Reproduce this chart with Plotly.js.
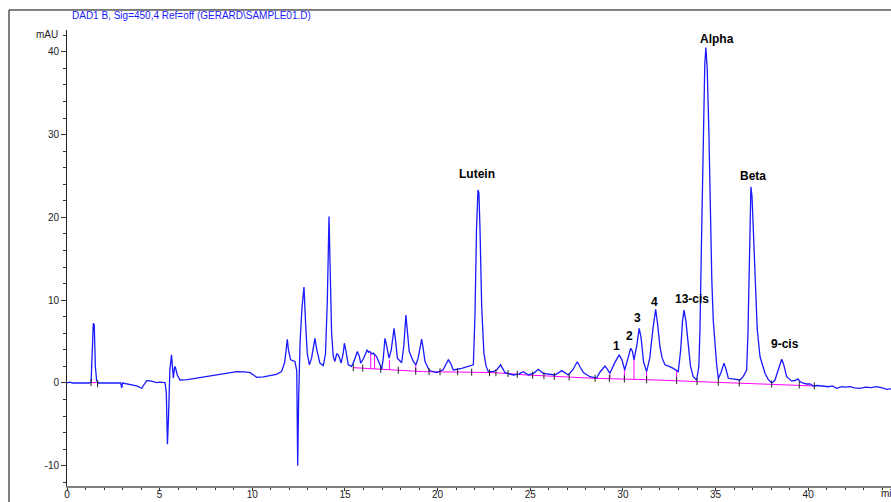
<!DOCTYPE html>
<html>
<head>
<meta charset="utf-8">
<script src="https://cdn.plot.ly/plotly-3.0.1.min.js"></script>
<style>html,body{margin:0;padding:0;background:#fff;}#chart{width:891px;height:502px;}</style>
</head>
<body>
<div id="chart"></div>
<script>
// Signal trace (time in min, absorbance in mAU)
var timeMin = [0.0,0.15,0.3,1.2,1.3,1.36,1.42,1.47,1.53,1.6,1.7,2.9,2.95,3.0,3.76,4.03,4.15,4.3,4.5,4.84,5.0,5.29,5.36,5.42,5.48,5.55,5.64,5.7,5.74,5.8,5.84,5.95,6.1,6.5,7.0,7.6,8.08,8.6,9.16,9.6,9.88,10.1,10.24,10.6,11.0,11.3,11.58,11.75,11.89,11.95,12.07,12.3,12.4,12.45,12.5,12.58,12.68,12.79,12.88,12.97,13.08,13.2,13.38,13.48,13.65,13.83,13.95,14.05,14.14,14.2,14.28,14.37,14.46,14.55,14.64,14.73,14.79,14.9,14.97,15.06,15.18,15.36,15.5,15.67,15.78,15.85,15.99,16.2,16.28,16.35,16.45,16.53,16.62,16.71,16.89,16.98,17.07,17.16,17.25,17.38,17.5,17.65,17.74,17.83,18.06,18.18,18.29,18.38,18.47,18.69,18.83,18.95,19.06,19.14,19.22,19.32,19.55,19.95,20.3,20.58,20.7,20.85,21.3,21.75,21.93,22.02,22.1,22.18,22.23,22.29,22.38,22.5,22.62,22.74,23.0,23.2,23.4,23.5,23.64,24.09,24.4,24.63,24.9,25.2,25.43,25.7,25.98,26.34,26.7,27.05,27.3,27.54,27.7,27.87,28.22,28.58,28.76,29.03,29.15,29.3,29.55,29.8,29.95,30.1,30.25,30.42,30.52,30.6,30.75,30.88,30.98,31.12,31.28,31.45,31.62,31.77,31.88,32.0,32.12,32.27,32.5,32.72,32.99,33.12,33.22,33.3,33.4,33.53,33.65,33.8,33.98,34.1,34.16,34.25,34.32,34.42,34.48,34.55,34.64,34.72,34.8,34.88,34.96,35.05,35.15,35.3,35.46,35.55,35.69,36.0,36.32,36.5,36.68,36.75,36.82,36.91,36.97,37.05,37.13,37.25,37.4,37.55,37.67,37.85,38.03,38.2,38.4,38.57,38.67,38.84,39.1,39.3,39.45,39.56,39.7,39.92,40.1,40.28,40.5,40.82,41.1,41.3,41.54,41.8,42.0,42.26,42.5,42.8,43.1,43.4,43.7,44.0,44.24,44.5];
var signalMAU = [0.0,0.1,0.0,0.0,0.1,3.0,7.2,7.0,2.0,0.3,0.0,0.0,-0.6,0.0,-0.36,-0.64,-0.2,0.28,0.25,0.04,0.1,0.04,-1.2,-7.4,-4.0,1.5,3.4,1.0,0.6,1.8,2.0,0.97,0.36,0.4,0.57,0.75,0.97,1.1,1.37,1.35,1.25,0.9,0.69,0.75,0.9,1.05,1.37,2.5,5.27,4.0,2.8,2.6,1.5,-10.0,-2.0,5.0,9.0,11.6,7.0,3.5,2.2,3.0,5.4,4.0,2.4,2.1,3.5,10.0,20.1,14.0,6.0,3.2,2.6,3.5,3.4,2.9,2.4,3.5,4.8,3.8,2.2,2.0,2.7,3.8,3.2,2.4,2.9,4.0,3.7,3.8,3.5,3.6,3.4,3.2,2.2,1.65,3.0,5.4,4.5,3.0,4.0,6.6,5.0,3.0,2.45,4.5,8.2,6.0,3.8,2.6,2.2,3.0,4.5,5.3,4.2,2.6,1.5,1.25,1.6,2.8,2.4,1.57,1.77,2.05,2.2,8.4,18.5,23.3,23.0,18.5,9.2,3.6,2.0,1.37,1.37,1.6,2.2,1.8,1.25,0.97,1.1,1.37,0.97,1.2,1.65,1.17,1.09,0.97,1.49,0.97,1.6,2.57,1.9,1.25,0.76,0.6,1.3,2.05,1.7,1.17,2.4,3.4,2.8,1.57,2.8,4.2,3.8,2.8,4.5,6.6,5.5,2.5,1.37,3.0,6.5,8.9,7.0,4.4,3.0,2.2,2.0,1.77,1.37,4.0,7.5,8.8,7.5,4.4,2.0,0.76,0.36,2.0,6.4,18.0,28.0,38.5,40.5,38.0,30.5,20.0,12.4,7.5,4.6,2.5,0.5,1.3,2.4,1.8,0.57,0.45,0.36,0.8,1.57,6.0,16.0,23.7,22.5,18.0,12.4,6.5,3.2,2.0,1.17,0.4,0.0,0.3,1.8,2.86,2.3,0.76,0.25,0.3,0.5,0.16,0.0,-0.12,-0.1,-0.36,-0.3,-0.36,-0.45,-0.35,-0.64,-0.45,-0.5,-0.44,-0.6,-0.64,-0.5,-0.55,-0.44,-0.6,-0.76,-0.7];

// Integration baseline (magenta)
var baseTime = [1.25,1.6,null,15.45,17.07,18.33,19.23,21.84,23.0,24.8,26.6,28.4,31.3,34.0,37.94,40.3];
var baseMAU  = [0.05,0.05,null,1.85,1.65,1.49,1.37,1.3,1.25,0.97,0.76,0.57,0.4,0.16,-0.12,-0.36];

// Drop lines (time, top, bottom)
var dropTime   = [16.39,16.6,17.4,18.82,29.3,30.08,30.6,31.28,32.9];
var dropTop    = [3.6,3.5,2.8,2.4,1.17,1.57,2.78,1.37,1.57];
var dropBottom = [1.7,1.68,1.62,1.42,0.55,0.48,0.46,0.4,0.28];

// Peak start/end tick marks
var markTime = [1.3,1.65,15.45,15.96,16.93,17.88,18.82,19.54,20.13,21.08,21.84,22.8,23.15,23.8,24.3,25.13,25.74,26.3,27.1,28.5,29.27,30.08,31.28,32.9,34.0,35.15,36.28,38.03,39.52,40.33];
var markMAU  = [0.05,-0.1,1.85,1.8,1.66,1.55,1.42,1.35,1.35,1.35,1.3,1.25,1.23,1.15,1.05,0.95,0.88,0.8,0.72,0.57,0.55,0.48,0.4,0.28,0.16,0.08,0.0,-0.12,-0.25,-0.36];

// Peak labels
var peakNames = ["Lutein","Alpha","Beta","1","2","3","4","13-cis","9-cis"];
var peakLabelTime = [22.1,35.08,37.02,29.68,30.38,30.81,31.73,33.73,38.75];
var peakLabelMAU  = [25.3,41.6,25.0,4.47,5.68,7.85,9.78,10.14,4.71];

var xTicks = [0,5,10,15,20,25,30,35,40];
var yTicks = [-10,0,10,20,30,40];

var dropX = [], dropY = [];
for (var i = 0; i < dropTime.length; i++) {
  dropX.push(dropTime[i], dropTime[i], null);
  dropY.push(dropTop[i], dropBottom[i], null);
}

var FONT = "'Liberation Sans', Arial, sans-serif";

var traces = [
  {x: baseTime, y: baseMAU, mode: 'lines', line: {color: '#ff00ff', width: 1}, connectgaps: false, hoverinfo: 'skip'},
  {x: dropX, y: dropY, mode: 'lines', line: {color: '#ff00ff', width: 1}, connectgaps: false, hoverinfo: 'skip'},
  {x: timeMin, y: signalMAU, mode: 'lines', line: {color: '#1a1aff', width: 1.3}},
  {x: markTime, y: markMAU, mode: 'markers', marker: {symbol: 'line-ns-open', size: 5, color: '#222', line: {color: '#222', width: 1}}, hoverinfo: 'skip'}
];

var annotations = [];
for (var k = 0; k < peakNames.length; k++) {
  annotations.push({x: peakLabelTime[k], y: peakLabelMAU[k], xref: 'x', yref: 'y', text: '<b>' + peakNames[k] + '</b>',
    showarrow: false, font: {family: FONT, size: 12, color: '#000'}, xanchor: 'center', yanchor: 'middle'});
}
annotations.push({xref: 'paper', yref: 'paper', x: 0.0036, y: 1.031, xanchor: 'left', yanchor: 'middle', showarrow: false,
  text: 'DAD1 B, Sig=450,4 Ref=off (GERARD\\SAMPLE01.D)', font: {family: FONT, size: 10, color: '#1a1aff'}});
annotations.push({xref: 'paper', yref: 'paper', x: -0.0245, y: 0.991, xanchor: 'center', yanchor: 'middle', showarrow: false,
  text: 'mAU', font: {family: FONT, size: 10, color: '#222'}});
annotations.push({xref: 'paper', yref: 'paper', x: 1.0, y: -0.017, xanchor: 'left', yanchor: 'middle', showarrow: false,
  xshift: -12, text: 'min', font: {family: FONT, size: 10, color: '#222'}});

var layout = {
  width: 891, height: 502,
  margin: {l: 67, r: 0, t: 30, b: 16, pad: 0},
  paper_bgcolor: '#fff', plot_bgcolor: '#fff',
  showlegend: false,
  font: {family: FONT, size: 10, color: '#222'},
  xaxis: {range: [0, 44.47], tickvals: xTicks, ticktext: xTicks.map(String), showgrid: false, zeroline: false,
    showline: true, linecolor: '#808080', linewidth: 2, ticks: 'outside', ticklen: 3, tickcolor: '#333', tickwidth: 1,
    minor: {dtick: 1, tick0: 0, ticks: 'outside', ticklen: 2, tickcolor: '#333'}, ticklabelstandoff: -5,
    tickfont: {family: FONT, size: 10, color: '#222'}, fixedrange: true},
  yaxis: {range: [-12.44, 42.63], tickvals: yTicks, ticktext: yTicks.map(String), showgrid: false, zeroline: false,
    showline: true, linecolor: '#222', linewidth: 1, ticks: 'outside', ticklen: 5, tickcolor: '#333', tickwidth: 1,
    minor: {dtick: 2, tick0: 0, ticks: 'outside', ticklen: 3, tickcolor: '#333'},
    tickfont: {family: FONT, size: 10, color: '#222'}, fixedrange: true},
  annotations: annotations,
  shapes: [
    {type: 'line', xref: 'paper', yref: 'paper', x0: -0.0704, x1: -0.0704, y0: -0.1, y1: 1.0439, line: {color: '#000', width: 1}},
    {type: 'line', xref: 'paper', yref: 'paper', x0: -0.0704, x1: 1.1, y0: 1.0439, y1: 1.0439, line: {color: '#000', width: 1}}
  ]
};

Plotly.newPlot('chart', traces, layout, {displayModeBar: false, staticPlot: true});
</script>
</body>
</html>
